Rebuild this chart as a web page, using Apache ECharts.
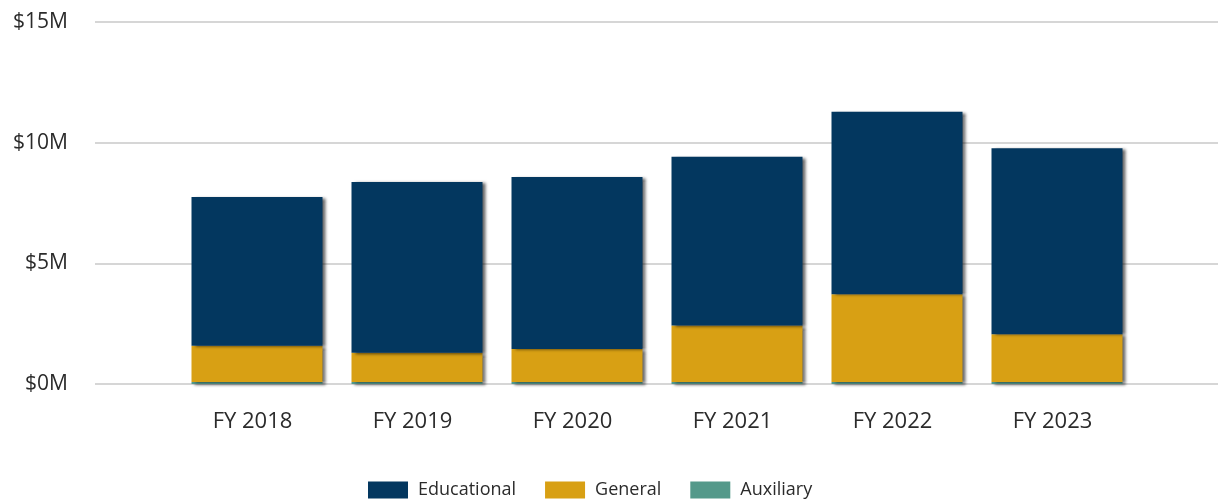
<!DOCTYPE html>
<html>
<head>
<meta charset="utf-8">
<script src="https://cdn.jsdelivr.net/npm/echarts@6/dist/echarts.min.js"></script>
<style>
  html, body { margin: 0; padding: 0; background: #ffffff; }
  #chart { width: 1222px; height: 500px; }
</style>
</head>
<body>
<div id="chart"></div>
<script>
// Fiscal years on the category axis
const categories = ['FY 2018', 'FY 2019', 'FY 2020', 'FY 2021', 'FY 2022', 'FY 2023'];

// Revenue by fund, in millions of dollars
const auxiliary   = [0.08, 0.08, 0.08, 0.08, 0.08, 0.08];
const general     = [1.51, 1.22, 1.37, 2.34, 3.64, 1.98];
const educational = [6.16, 7.07, 7.13, 7.00, 7.56, 7.71];

// Value axis ticks
const yMin = 0, yMax = 15, yStep = 5;

const colors = {
  educational: '#03375f',
  general: '#d8a014',
  auxiliary: '#54998a'
};

const fontFamily = '"Open Sans", "Noto Sans", sans-serif';

const barShadow = {
  shadowColor: 'rgba(0,0,0,0.6)',
  shadowBlur: 3,
  shadowOffsetX: 3,
  shadowOffsetY: 1
};

function stackSeries(name, data, color) {
  return {
    name: name,
    type: 'bar',
    stack: 'total',
    xAxisIndex: 1,
    yAxisIndex: 1,
    barWidth: 131,
    data: data,
    itemStyle: Object.assign({ color: color }, barShadow)
  };
}

const chart = echarts.init(document.getElementById('chart'), null, { renderer: 'canvas' });

chart.setOption({
  animation: false,
  backgroundColor: '#ffffff',
  textStyle: { fontFamily: fontFamily },
  grid: [
    // wide grid carrying the value labels and gridlines
    { left: 95, right: 4, top: 22, bottom: 116 },
    // inner grid carrying the bars
    { left: 177, right: 85, top: 22, bottom: 116 }
  ],
  xAxis: [
    { type: 'value', gridIndex: 0, show: false, min: 0, max: 1 },
    {
      type: 'category',
      gridIndex: 1,
      data: categories,
      axisLine: { show: false },
      axisTick: { show: false },
      axisLabel: {
        color: '#2b2b2b',
        fontSize: 22,
        margin: 27,
        padding: [0, 9, 0, 0],
        fontFamily: fontFamily
      }
    }
  ],
  yAxis: [
    {
      type: 'value',
      gridIndex: 0,
      min: yMin,
      max: yMax,
      interval: yStep,
      axisLine: { show: false },
      axisTick: { show: false },
      axisLabel: {
        color: '#2b2b2b',
        fontSize: 21,
        margin: 27,
        padding: [8, 0, 0, 0],
        fontFamily: fontFamily,
        formatter: function (v) { return '$' + v + 'M'; }
      },
      splitLine: { lineStyle: { color: '#d6d6d6', width: 2 } }
    },
    {
      type: 'value',
      gridIndex: 1,
      min: yMin,
      max: yMax,
      interval: yStep,
      show: false,
      splitLine: { show: false }
    }
  ],
  legend: {
    data: ['Educational', 'General', 'Auxiliary'],
    icon: 'rect',
    left: 368,
    bottom: 1,
    padding: 0,
    itemWidth: 40,
    itemHeight: 17,
    itemGap: 29,
    textStyle: {
      color: '#2b2b2b',
      fontSize: 18,
      padding: [0, 0, 0, 5],
      fontFamily: fontFamily
    }
  },
  series: [
    stackSeries('Auxiliary', auxiliary, colors.auxiliary),
    stackSeries('General', general, colors.general),
    stackSeries('Educational', educational, colors.educational)
  ]
});
</script>
</body>
</html>
